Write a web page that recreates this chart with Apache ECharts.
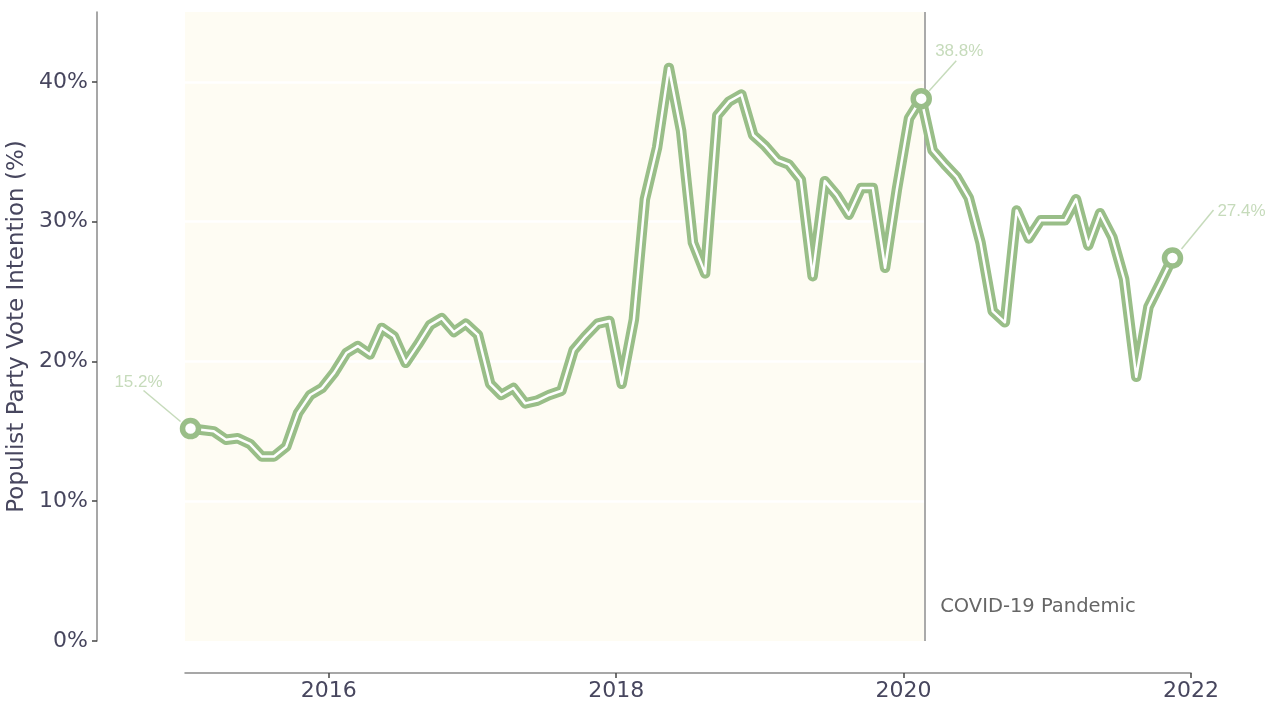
<!DOCTYPE html>
<html>
<head>
<meta charset="utf-8">
<script src="https://cdn.jsdelivr.net/npm/echarts@6/dist/echarts.min.js"></script>
<style>
  html, body { margin: 0; padding: 0; background: #fff; }
  #chart { width: 1274px; height: 704px; }
</style>
</head>
<body>
<div id="chart"></div>
<script>
// monthly polling average, Jan 2015 .. Nov 2021
var firstYear = 2015;
var monthCount = 83;
var voteShare = [
  15.2, 15.1, 15.0, 14.4, 14.5, 14.1, 13.2, 13.2, 13.9, 16.3, 17.6, 18.1,
  19.2, 20.6, 21.1, 20.5, 22.4, 21.8, 19.9, 21.2, 22.6, 23.1, 22.1, 22.7,
  21.9, 18.4, 17.6, 18.1, 17.0, 17.2, 17.6, 17.9, 20.8, 21.8, 22.7, 22.9,
  18.4, 23.0, 31.6, 35.3, 41.0, 36.5, 28.5, 26.3, 37.6, 38.6, 39.1, 36.2,
  35.4, 34.4, 34.1, 33.0, 26.1, 32.9, 31.9, 30.5, 32.4, 32.4, 26.7, 32.3,
  37.4, 38.8, 35.1, 34.1, 33.2, 31.7, 28.5, 23.6, 22.8, 30.8, 28.8, 30.1,
  30.1, 30.1, 31.6, 28.3, 30.6, 28.9, 25.9, 18.9, 23.9, 25.6, 27.4
];
var yTicks = [0, 10, 20, 30, 40];
var xTicks = [2016, 2018, 2020, 2022];
var xMin = 2015, xMax = 2022;
var covidDate = '2020-02-25';
var covidText = 'COVID-19 Pandemic';
var highlighted = [0, 61, 82];

var GREEN = '#99be88';
var PALE = '#c6dbbb';
var INK = '#47465e';

// date string -> fractional year, so the x axis can be a plain value axis
function yearFrac(s) {
  var p = s.split('-').map(Number);
  var start = Date.UTC(p[0], 0, 1), end = Date.UTC(p[0] + 1, 0, 1);
  return p[0] + (Date.UTC(p[0], p[1] - 1, p[2]) - start) / (end - start);
}

var months = [];
for (var i = 0; i < monthCount; i++) {
  var y = firstYear + Math.floor(i / 12);
  var m = (i % 12) + 1;
  months.push(y + '-' + (m < 10 ? '0' + m : m) + '-15');
}
var lineData = months.map(function (d, i) { return [yearFrac(d), voteShare[i]]; });
var pointData = highlighted.map(function (i) { return lineData[i]; });
var covidX = yearFrac(covidDate);

var chart = echarts.init(document.getElementById('chart'));

chart.setOption({
  animation: false,
  backgroundColor: '#fff',
  grid: { left: 185, right: 83, top: 12, bottom: 63, containLabel: false, outerBoundsMode: 'none' },
  xAxis: {
    type: 'value',
    min: xMin,
    max: xMax,
    offset: 32,
    axisLine: { show: true, onZero: false, lineStyle: { color: '#8a8a8a', width: 1.5 } },
    axisTick: { show: true, length: 5, customValues: xTicks, lineStyle: { color: '#444', width: 1.5 } },
    axisLabel: {
      customValues: xTicks,
      formatter: function (v) { return String(v); },
      color: INK, fontSize: 22, fontFamily: 'DejaVu Sans', margin: 7
    },
    splitLine: { show: false }
  },
  yAxis: {
    type: 'value',
    min: 0,
    max: 45,
    offset: 88,
    name: 'Populist Party Vote Intention (%)',
    nameLocation: 'middle',
    nameGap: 60,
    nameTextStyle: { color: INK, fontSize: 23, fontFamily: 'DejaVu Sans' },
    axisLine: { show: true, onZero: false, lineStyle: { color: '#8a8a8a', width: 1.5 } },
    axisTick: { show: true, length: 5, customValues: yTicks, lineStyle: { color: '#444', width: 1.5 } },
    axisLabel: {
      customValues: yTicks,
      formatter: '{value}%',
      color: INK, fontSize: 22, fontFamily: 'DejaVu Sans', margin: 9
    },
    splitLine: { show: false }
  },
  series: [
    {
      // pre-pandemic shading
      type: 'line', data: [], z: 1, silent: true,
      markArea: {
        silent: true, z: 1,
        itemStyle: { color: '#fefcf3' },
        data: [[{ xAxis: xMin, yAxis: 0 }, { xAxis: covidX, yAxis: 45 }]]
      }
    },
    {
      // white gridlines (only visible over the shading)
      type: 'line', data: [], z: 2, silent: true,
      markLine: {
        silent: true, z: 2, symbol: ['none', 'none'], label: { show: false },
        lineStyle: { color: '#ffffff', width: 2.5, type: 'solid' },
        data: yTicks.slice(1).map(function (v) { return { yAxis: v }; })
      }
    },
    {
      type: 'line', data: [], z: 3, silent: true,
      markLine: {
        silent: true, z: 3, symbol: ['none', 'none'], label: { show: false },
        lineStyle: { color: '#aaaaaa', width: 2, type: 'solid' },
        data: [{ xAxis: covidX }]
      }
    },
    {
      type: 'line', data: lineData, z: 4, symbol: 'none', silent: true,
      lineStyle: { color: GREEN, width: 10.5, cap: 'round', join: 'round' }
    },
    {
      type: 'line', data: lineData, z: 5, symbol: 'none', silent: true,
      lineStyle: { color: '#ffffff', width: 2.5, cap: 'round', join: 'round' }
    },
    {
      type: 'scatter', data: pointData, z: 6, symbol: 'circle', symbolSize: 16, silent: true,
      itemStyle: { color: '#ffffff', borderColor: GREEN, borderWidth: 5.5, opacity: 1 }
    }
  ]
});

// annotations placed relative to the data points
function px(x, v) {
  return chart.convertToPixel({ xAxisIndex: 0, yAxisIndex: 0 }, [x, v]);
}
var offsets = [
  { tx: -52, ty: -46, l: [-47, -38, -10, -7] },
  { tx: 38, ty: -47, l: [35, -38, 8, -8] },
  { tx: 69, ty: -47, l: [41, -48, 9, -9] }
];
var elements = [];
highlighted.forEach(function (idx, k) {
  var p = px(lineData[idx][0], voteShare[idx]);
  var o = offsets[k];
  elements.push({
    type: 'line', z: 100, silent: true,
    shape: { x1: p[0] + o.l[0], y1: p[1] + o.l[1], x2: p[0] + o.l[2], y2: p[1] + o.l[3] },
    style: { stroke: PALE, lineWidth: 1.5 }
  });
  elements.push({
    type: 'text', z: 100, silent: true,
    x: p[0] + o.tx, y: p[1] + o.ty,
    style: {
      text: voteShare[idx].toFixed(1) + '%', fill: PALE,
      font: '17px "Liberation Sans", Arial, sans-serif',
      align: 'center', verticalAlign: 'middle'
    }
  });
});
var c = px(covidX, 0);
elements.push({
  type: 'text', z: 100, silent: true,
  x: c[0] + 15, y: c[1] - 34,
  style: {
    text: covidText, fill: '#666666',
    font: '19.5px "DejaVu Sans", sans-serif',
    align: 'left', verticalAlign: 'middle'
  }
});
chart.setOption({ graphic: { elements: elements } });
</script>
</body>
</html>
